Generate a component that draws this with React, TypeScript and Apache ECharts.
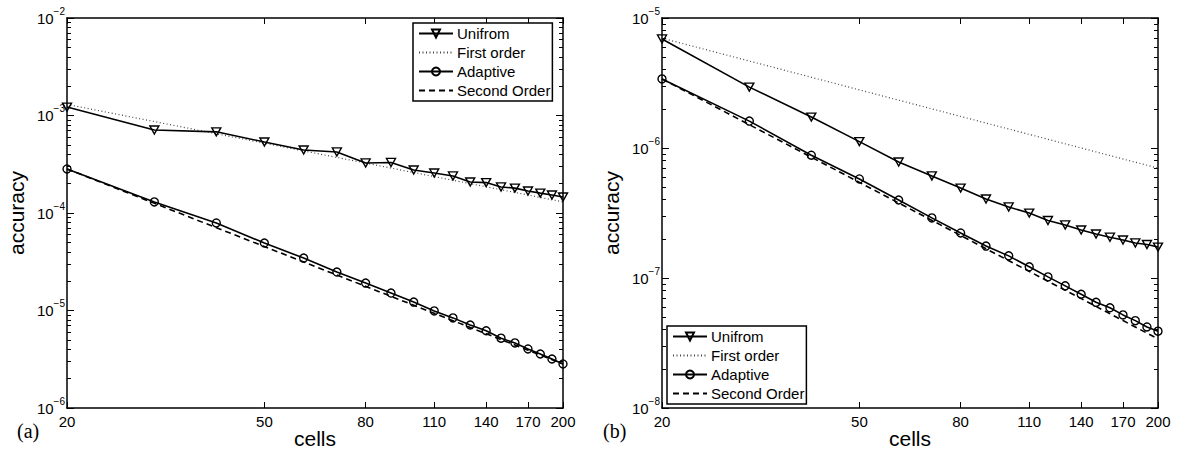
import React, { useEffect, useRef } from "react";
import * as echarts from "echarts";

// Number of cells used in each refinement run
const cells = [20, 30, 40, 50, 60, 70, 80, 90, 100, 110, 120, 130, 140, 150, 160, 170, 180, 190, 200];

// Panel (a): accuracy per run
const uniformA = [1.22e-3, 7.1e-4, 6.8e-4, 5.35e-4, 4.43e-4, 4.23e-4, 3.26e-4, 3.3e-4, 2.76e-4, 2.57e-4, 2.4e-4, 2.08e-4, 2.05e-4, 1.85e-4, 1.8e-4, 1.68e-4, 1.6e-4, 1.53e-4, 1.46e-4];
const adaptiveA = [2.83e-4, 1.3e-4, 7.9e-5, 4.92e-5, 3.45e-5, 2.48e-5, 1.91e-5, 1.51e-5, 1.22e-5, 9.9e-6, 8.4e-6, 7.1e-6, 6.2e-6, 5.2e-6, 4.65e-6, 4.03e-6, 3.58e-6, 3.18e-6, 2.83e-6];
const firstOrderA = [[20, 1.3e-3], [200, 1.3e-4]];
const secondOrderA = [[20, 2.83e-4], [200, 2.83e-6]];

// Panel (b): accuracy per run
const uniformB = [6.9e-6, 2.94e-6, 1.73e-6, 1.12e-6, 7.8e-7, 6.1e-7, 4.92e-7, 4.05e-7, 3.52e-7, 3.16e-7, 2.77e-7, 2.56e-7, 2.34e-7, 2.18e-7, 2.06e-7, 1.96e-7, 1.86e-7, 1.81e-7, 1.73e-7];
const adaptiveB = [3.4e-6, 1.61e-6, 8.8e-7, 5.78e-7, 3.98e-7, 2.9e-7, 2.22e-7, 1.76e-7, 1.48e-7, 1.22e-7, 1.02e-7, 8.7e-8, 7.5e-8, 6.5e-8, 5.9e-8, 5.2e-8, 4.7e-8, 4.2e-8, 3.9e-8];
const firstOrderB = [[20, 7e-6], [200, 7e-7]];
const secondOrderB = [[20, 3.4e-6], [200, 3.4e-8]];

// Tick positions
const xTicks = [20, 50, 80, 110, 140, 170, 200];
const decadesA = [-6, -5, -4, -3, -2];
const decadesB = [-8, -7, -6, -5];

const seriesNames = ["Unifrom", "First order", "Adaptive", "Second Order"];

const FONT = "'Liberation Sans', Arial, Helvetica, sans-serif";

const majorValues = (decs: number[]) => decs.map((d) => Math.pow(10, d));
const minorValues = (decs: number[]) => {
  const out: number[] = [];
  for (let i = 0; i < decs.length - 1; i++) {
    for (let m = 2; m <= 9; m++) out.push(m * Math.pow(10, decs[i]));
  }
  return out;
};

const axisLine = { show: true, onZero: false, lineStyle: { color: "#000", width: 1.5 } };
const hidden = { color: "rgba(0,0,0,0)", borderColor: "rgba(0,0,0,0)", borderWidth: 0 };

function buildPanel(g: number, left: number, decs: number[], uni: number[], ada: number[], first: number[][], second: number[][]) {
  const ymin = Math.pow(10, decs[0]);
  const ymax = Math.pow(10, decs[decs.length - 1]);
  const major = majorValues(decs);
  const minor = minorValues(decs);

  const grid = { left, top: 18, width: 496, height: 390, outerBoundsMode: "none" };

  const xBase = { type: "log", logBase: 10, min: 20, max: 200, gridIndex: g, splitLine: { show: false }, axisLine };
  const xAxes = [
    {
      ...xBase,
      position: "bottom",
      name: "cells",
      nameLocation: "middle",
      nameGap: 20,
      nameMoveOverlap: false,
      nameTextStyle: { fontSize: 21, fontFamily: FONT, color: "#000" },
      axisTick: { show: true, inside: true, length: 6, customValues: xTicks, lineStyle: { color: "#000", width: 1 } },
      axisLabel: { show: true, customValues: xTicks, fontSize: 15, fontFamily: FONT, color: "#000", margin: 6, formatter: (v: number) => String(Math.round(v)) },
    },
    {
      ...xBase,
      position: "top",
      axisTick: { show: true, inside: true, length: 6, customValues: xTicks, lineStyle: { color: "#000", width: 1 } },
      axisLabel: { show: false },
    },
  ];

  const yBase = { type: "log", logBase: 10, min: ymin, max: ymax, gridIndex: g, splitLine: { show: false } };
  const yAxes = [
    {
      ...yBase,
      position: "left",
      axisLine,
      name: "accuracy",
      nameLocation: "middle",
      nameGap: 40,
      nameRotate: 90,
      nameTextStyle: { fontSize: 21, fontFamily: FONT, color: "#000" },
      axisTick: { show: true, inside: true, length: 7, customValues: major, lineStyle: { color: "#000", width: 1 } },
      axisLabel: {
        show: true,
        customValues: major,
        margin: 2,
        formatter: (v: number) => `{b|10}{s|\u2212${-Math.round(Math.log10(v))}}`,
        rich: {
          b: { fontSize: 15, fontFamily: FONT, color: "#000", lineHeight: 24 },
          s: { fontSize: 10, fontFamily: FONT, color: "#000", lineHeight: 10, verticalAlign: "top" },
        },
      },
    },
    {
      ...yBase,
      position: "left",
      axisLine: { show: false },
      axisTick: { show: true, inside: true, length: 4, customValues: minor, lineStyle: { color: "#000", width: 1 } },
      axisLabel: { show: false },
    },
    {
      ...yBase,
      position: "right",
      axisLine,
      axisTick: { show: true, inside: true, length: 7, customValues: major, lineStyle: { color: "#000", width: 1 } },
      axisLabel: { show: false },
    },
    {
      ...yBase,
      position: "right",
      axisLine: { show: false },
      axisTick: { show: true, inside: true, length: 4, customValues: minor, lineStyle: { color: "#000", width: 1 } },
      axisLabel: { show: false },
    },
  ];

  const common = { type: "line", xAxisIndex: 2 * g, yAxisIndex: 4 * g, silent: true };
  const series = [
    {
      ...common,
      name: seriesNames[1],
      data: first,
      symbol: "none",
      itemStyle: hidden,
      lineStyle: { color: "#444", width: 1.2, type: [1, 2.5] },
      z: 2,
    },
    {
      ...common,
      name: seriesNames[3],
      data: second,
      symbol: "none",
      itemStyle: hidden,
      lineStyle: { color: "#000", width: 1.6, type: [6, 4] },
      z: 2,
    },
    {
      ...common,
      name: seriesNames[0],
      data: cells.map((c, i) => [c, uni[i]]),
      symbol: "triangle",
      symbolRotate: 180,
      symbolSize: [9, 8],
      lineStyle: { color: "#000", width: 1.6 },
      itemStyle: { color: "rgba(255,255,255,0)", borderColor: "#000", borderWidth: 1.4 },
      z: 3,
    },
    {
      ...common,
      name: seriesNames[2],
      data: cells.map((c, i) => [c, ada[i]]),
      symbol: "circle",
      symbolSize: 8,
      lineStyle: { color: "#000", width: 1.6 },
      itemStyle: { color: "rgba(255,255,255,0)", borderColor: "#000", borderWidth: 1.4 },
      z: 3,
    },
  ];

  return { grid, xAxes, yAxes, series };
}

function legendAt(left: number, top: number) {
  return {
    data: seriesNames,
    orient: "vertical",
    left,
    top,
    padding: [3, 2, 3, 5],
    itemWidth: 34,
    itemHeight: 10,
    itemGap: 4,
    borderColor: "#000",
    borderWidth: 1.5,
    borderRadius: 0,
    backgroundColor: "#fff",
    selectedMode: false,
    textStyle: { fontSize: 15, fontFamily: FONT, color: "#000", lineHeight: 15, padding: [0, 0, 0, -1] },
    z: 10,
  };
}

export default function App() {
  const ref = useRef<HTMLDivElement>(null);

  useEffect(() => {
    if (!ref.current) return;
    const chart = echarts.init(ref.current, null, { renderer: "svg" });
    const a = buildPanel(0, 67, decadesA, uniformA, adaptiveA, firstOrderA, secondOrderA);
    const b = buildPanel(1, 662, decadesB, uniformB, adaptiveB, firstOrderB, secondOrderB);

    chart.setOption({
      animation: false,
      backgroundColor: "#fff",
      grid: [a.grid, b.grid],
      xAxis: [...a.xAxes, ...b.xAxes],
      yAxis: [...a.yAxes, ...b.yAxes],
      legend: [legendAt(413, 23), legendAt(667, 326)],
      series: [...a.series, ...b.series],
      graphic: [
        { type: "text", left: 17, top: 421, style: { text: "(a)", font: "20px 'Liberation Serif', 'Times New Roman', serif", fill: "#000" } },
        { type: "text", left: 603, top: 421, style: { text: "(b)", font: "20px 'Liberation Serif', 'Times New Roman', serif", fill: "#000" } },
      ],
    });

    return () => chart.dispose();
  }, []);

  return (
    <div
      ref={ref}
      style={{ position: "fixed", left: 0, top: 0, width: 1180, height: 451, background: "#fff" }}
    />
  );
}
